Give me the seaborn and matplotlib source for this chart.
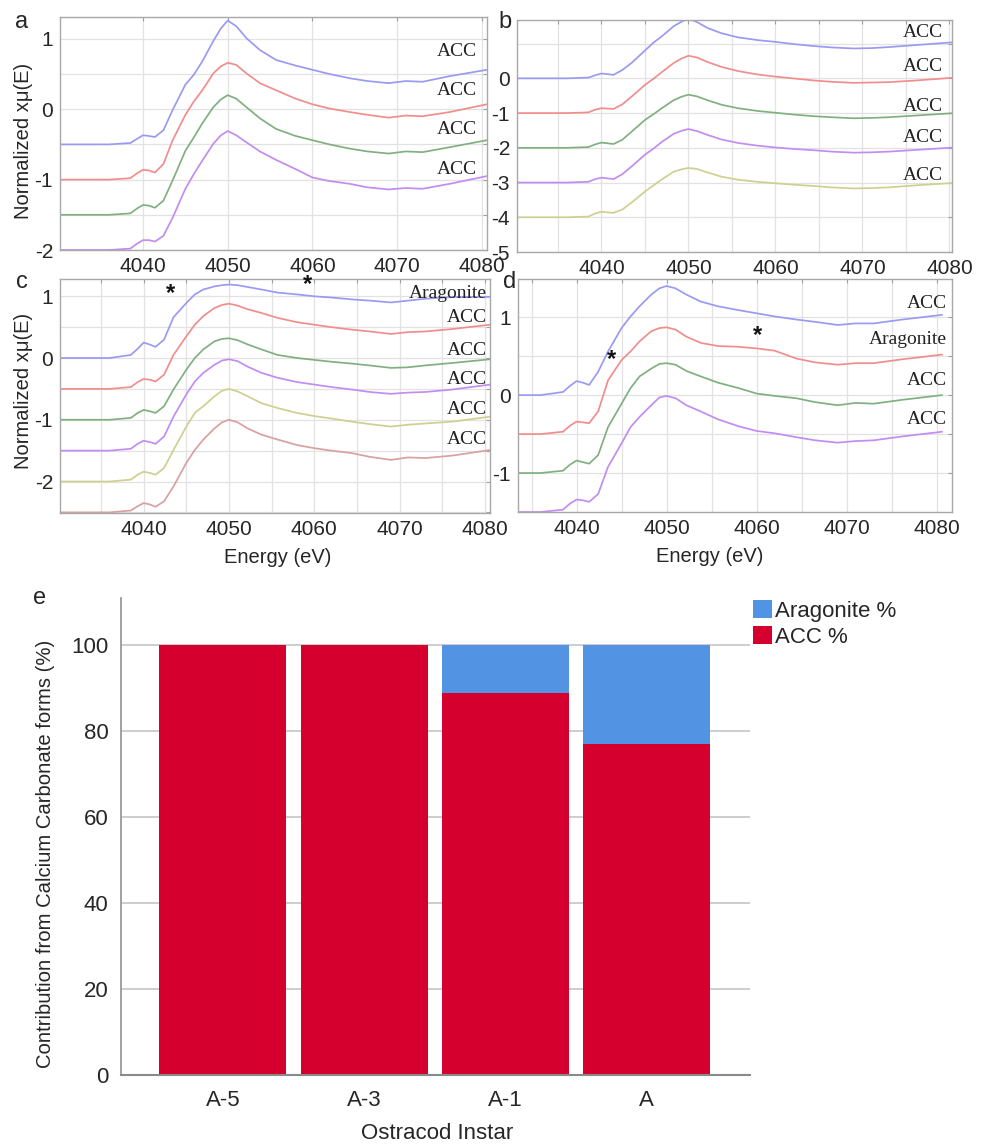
import matplotlib
matplotlib.use("Agg")
import matplotlib.pyplot as plt
from matplotlib.ticker import FixedLocator
import seaborn as sns
import pandas as pd

# ---- XANES spectra, shared energy grid in eV ----
energy = [4030, 4036, 4038.5, 4039.3, 4040, 4040.7, 4041.4, 4042.4, 4043.5, 4045,
          4046, 4047, 4048.3, 4049.2, 4050, 4051, 4052.2, 4053.8, 4055.7, 4058,
          4060, 4062, 4064.4, 4066.5, 4069, 4071, 4073, 4076.2, 4080.6]

a_blue = [-0.5, -0.5, -0.48, -0.42, -0.37, -0.38, -0.395, -0.3, -0.01, 0.35, 0.49, 0.68, 0.97, 1.15, 1.26,
          1.18, 1.01, 0.84, 0.70, 0.62, 0.56, 0.50, 0.44, 0.40, 0.37, 0.40, 0.39, 0.47, 0.56]
a_red = [-1, -1, -0.98, -0.91, -0.86, -0.87, -0.9, -0.78, -0.44, -0.08, 0.11, 0.27, 0.51, 0.61, 0.66,
         0.63, 0.51, 0.37, 0.27, 0.15, 0.07, 0.01, -0.04, -0.08, -0.12, -0.09, -0.10, -0.04, 0.07]
a_green = [-1.5, -1.5, -1.48, -1.41, -1.36, -1.37, -1.4, -1.3, -1.01, -0.59, -0.4, -0.2, 0.03, 0.14, 0.2,
           0.15, 0.03, -0.13, -0.28, -0.38, -0.44, -0.5, -0.56, -0.6, -0.63, -0.6, -0.61, -0.54, -0.44]
a_purple = [-2, -2, -1.98, -1.91, -1.86, -1.86, -1.88, -1.8, -1.54, -1.13, -0.92, -0.73, -0.49, -0.37, -0.31,
            -0.37, -0.47, -0.6, -0.72, -0.85, -0.97, -1.02, -1.06, -1.11, -1.14, -1.12, -1.13, -1.06, -0.95]

b_blue = [0, 0, 0.02, 0.09, 0.14, 0.12, 0.1, 0.24, 0.45, 0.8, 1.03, 1.22, 1.5, 1.63, 1.72,
          1.62, 1.45, 1.3, 1.18, 1.1, 1.05, 0.99, 0.93, 0.89, 0.86, 0.87, 0.9, 0.96, 1.04]
b_red = [-1, -1, -0.98, -0.9, -0.86, -0.87, -0.88, -0.75, -0.52, -0.19, -0.01, 0.19, 0.44, 0.57, 0.65,
         0.6, 0.47, 0.33, 0.21, 0.11, 0.05, 0.0, -0.06, -0.1, -0.13, -0.12, -0.11, -0.06, 0.02]
b_green = [-2, -2, -1.98, -1.9, -1.85, -1.87, -1.89, -1.77, -1.53, -1.2, -1.03, -0.85, -0.63, -0.53, -0.47,
           -0.52, -0.63, -0.76, -0.86, -0.94, -0.99, -1.04, -1.09, -1.12, -1.15, -1.14, -1.12, -1.07, -1.0]
b_purple = [-3, -3, -2.98, -2.9, -2.86, -2.88, -2.9, -2.76, -2.53, -2.2, -2.02, -1.82, -1.6, -1.51, -1.46,
            -1.52, -1.63, -1.76, -1.86, -1.94, -1.99, -2.03, -2.07, -2.11, -2.14, -2.13, -2.11, -2.06, -1.99]
b_olive = [-4, -4, -3.98, -3.89, -3.84, -3.86, -3.87, -3.78, -3.57, -3.26, -3.08, -2.9, -2.69, -2.62, -2.58,
           -2.61, -2.71, -2.83, -2.92, -2.98, -3.02, -3.06, -3.1, -3.14, -3.17, -3.16, -3.14, -3.08, -3.01]

c_blue = [0, 0, 0.05, 0.15, 0.25, 0.22, 0.18, 0.3, 0.66, 0.89, 1.03, 1.11, 1.16, 1.18, 1.19,
          1.18, 1.15, 1.11, 1.06, 1.03, 1.0, 0.98, 0.95, 0.93, 0.9, 0.93, 0.96, 0.99, 0.99]
c_red = [-0.5, -0.5, -0.47, -0.39, -0.34, -0.35, -0.38, -0.27, 0.05, 0.35, 0.54, 0.68, 0.81, 0.86, 0.88,
         0.85, 0.79, 0.73, 0.65, 0.58, 0.54, 0.5, 0.46, 0.43, 0.39, 0.42, 0.43, 0.47, 0.54]
c_green = [-1, -1, -0.97, -0.89, -0.84, -0.86, -0.89, -0.78, -0.51, -0.19, 0.0, 0.14, 0.27, 0.31, 0.32,
           0.29, 0.22, 0.14, 0.05, 0.0, -0.03, -0.06, -0.09, -0.12, -0.16, -0.15, -0.12, -0.08, -0.02]
c_purple = [-1.5, -1.5, -1.47, -1.39, -1.34, -1.36, -1.39, -1.27, -0.95, -0.59, -0.38, -0.24, -0.11, -0.04, -0.02,
            -0.05, -0.14, -0.24, -0.32, -0.39, -0.43, -0.47, -0.51, -0.55, -0.58, -0.56, -0.55, -0.51, -0.43]
c_olive = [-2, -2, -1.97, -1.89, -1.84, -1.86, -1.89, -1.78, -1.49, -1.11, -0.89, -0.78, -0.62, -0.53, -0.5,
           -0.54, -0.62, -0.73, -0.81, -0.89, -0.94, -0.98, -1.03, -1.07, -1.11, -1.08, -1.06, -1.03, -0.95]
c_brown = [-2.5, -2.5, -2.47, -2.4, -2.35, -2.37, -2.41, -2.32, -2.08, -1.7, -1.49, -1.32, -1.14, -1.04, -1.0,
           -1.04, -1.14, -1.24, -1.32, -1.41, -1.46, -1.5, -1.54, -1.6, -1.65, -1.61, -1.62, -1.58, -1.49]

d_blue = [0, 0, 0.04, 0.12, 0.18, 0.16, 0.13, 0.3, 0.56, 0.86, 1.01, 1.14, 1.29, 1.37, 1.4,
          1.37, 1.29, 1.2, 1.14, 1.09, 1.05, 1.01, 0.97, 0.94, 0.9, 0.92, 0.92, 0.97, 1.03]
d_red = [-0.5, -0.5, -0.47, -0.39, -0.34, -0.35, -0.36, -0.21, 0.19, 0.45, 0.56, 0.69, 0.82, 0.86, 0.87,
         0.84, 0.75, 0.67, 0.63, 0.62, 0.6, 0.57, 0.47, 0.42, 0.39, 0.41, 0.41, 0.46, 0.52]
d_green = [-1, -1, -0.97, -0.89, -0.84, -0.86, -0.88, -0.77, -0.41, -0.11, 0.09, 0.24, 0.34, 0.4, 0.41,
           0.39, 0.31, 0.24, 0.16, 0.09, 0.02, -0.01, -0.04, -0.09, -0.13, -0.1, -0.11, -0.06, 0.0]
d_purple = [-1.5, -1.5, -1.47, -1.39, -1.34, -1.35, -1.37, -1.27, -0.92, -0.62, -0.41, -0.28, -0.13, -0.03, -0.01,
            -0.04, -0.13, -0.21, -0.31, -0.4, -0.46, -0.49, -0.54, -0.58, -0.61, -0.59, -0.58, -0.53, -0.47]

a_names = ["ACC", "ACC", "ACC", "ACC"]
b_names = ["ACC", "ACC", "ACC", "ACC", "ACC"]
c_names = ["Aragonite", "ACC", "ACC", "ACC", "ACC", "ACC"]
d_names = ["ACC", "Aragonite", "ACC", "ACC"]

# asterisks marking aragonite features (energy, value)
c_stars_e = [4043.1, 4059.2]
c_stars_y = [1.04, 1.19]
d_stars_e = [4043.9, 4060.1]
d_stars_y = [0.46, 0.76]

# ---- bar chart ----
instars = ["A-5", "A-3", "A-1", "A"]
acc_pct = [100, 100, 89, 77]
aragonite_pct = [0, 0, 11, 23]

line_colors = ["#9a9af4", "#f28d8d", "#80b080", "#c28cf2", "#cdd08e", "#d9a0a0"]

sns.set_theme(style="white")
plt.rcParams["font.family"] = ["Liberation Sans", "DejaVu Sans"]
plt.rcParams["axes.unicode_minus"] = False

fig = plt.figure(figsize=(9.81, 11.46), dpi=100)
W, H = 981, 1146


def px_axes(left, top, right, bottom):
    return fig.add_axes([left / W, (H - bottom) / H, (right - left) / W, (bottom - top) / H])


def spectra(ax, curves, names, xlim, ylim, label_y, label_x):
    rows = []
    for i, vals in enumerate(curves):
        for e, v in zip(energy, vals):
            rows.append({"energy": e, "mu": v, "curve": i})
    df = pd.DataFrame(rows)
    sns.lineplot(data=df, x="energy", y="mu", hue="curve", palette=line_colors[:len(curves)],
                 sort=False, estimator=None, legend=False, lw=1.25, ax=ax)
    ax.set_xlim(*xlim)
    ax.set_ylim(*ylim)
    ax.set_xlabel("")
    ax.set_ylabel("")
    for s in ax.spines.values():
        s.set_color("#a8a8a8")
        s.set_linewidth(1.0)
    ax.tick_params(direction="in", length=3, width=0.8, color="#a0a0a0",
                   labelsize=15, pad=5, top=True, right=True, which="both")
    ax.grid(True, which="both", color="#e2e2e2", lw=0.9)
    for name, y in zip(names, label_y):
        ax.text(label_x, y, name, family=["Liberation Serif", "DejaVu Serif"], fontsize=14,
                ha="right", va="center", color="#222222")


# panel a
ax_a = px_axes(60, 17, 487, 250)
spectra(ax_a, [a_blue, a_red, a_green, a_purple], a_names, (4030.2, 4080.6), (-2.0, 1.31),
        [0.82, 0.26, -0.29, -0.85], 4079.4)
ax_a.xaxis.set_major_locator(FixedLocator([4040, 4050, 4060, 4070, 4080]))
ax_a.yaxis.set_major_locator(FixedLocator([-2, -1, 0, 1]))
ax_a.yaxis.set_minor_locator(FixedLocator([-1.5, -0.5, 0.5]))
ax_a.set_ylabel("Normalized x\u03bc(E)", fontsize=14.5)
ax_a.yaxis.set_label_coords(-0.063, 0.47)

# panel b
ax_b = px_axes(517, 20, 952, 252)
spectra(ax_b, [b_blue, b_red, b_green, b_purple, b_olive], b_names, (4030.3, 4080.3), (-5.0, 1.68),
        [1.31, 0.34, -0.8, -1.7, -2.79], 4079.3)
ax_b.xaxis.set_major_locator(FixedLocator([4040, 4050, 4060, 4070, 4080]))
ax_b.xaxis.set_minor_locator(FixedLocator([4035, 4045, 4055, 4065, 4075]))
ax_b.yaxis.set_major_locator(FixedLocator([-5, -4, -3, -2, -1, 0]))
ax_b.yaxis.set_minor_locator(FixedLocator([1]))

# panel c
ax_c = px_axes(60, 279, 490, 513)
spectra(ax_c, [c_blue, c_red, c_green, c_purple, c_olive, c_brown], c_names, (4030.2, 4080.6),
        (-2.51, 1.28), [1.04, 0.65, 0.12, -0.34, -0.83, -1.32], 4080.2)
ax_c.xaxis.set_major_locator(FixedLocator([4040, 4050, 4060, 4070, 4080]))
ax_c.xaxis.set_minor_locator(FixedLocator([4035, 4045, 4055, 4065, 4075]))
ax_c.yaxis.set_major_locator(FixedLocator([-2, -1, 0, 1]))
ax_c.yaxis.set_minor_locator(FixedLocator([-2.5, -1.5, -0.5, 0.5]))
ax_c.set_ylabel("Normalized x\u03bc(E)", fontsize=14.5)
ax_c.yaxis.set_label_coords(-0.063, 0.52)
ax_c.set_xlabel("Energy (eV)", fontsize=14.5)
ax_c.xaxis.set_label_coords(0.507, -0.15)
for e, y in zip(c_stars_e, c_stars_y):
    ax_c.text(e, y, "*", fontsize=17, ha="center", va="center", fontweight="bold", color="#111111")

# panel d
ax_d = px_axes(518, 279, 952, 512)
spectra(ax_d, [d_blue, d_red, d_green, d_purple], d_names, (4033.5, 4081.7), (-1.5, 1.49),
        [1.17, 0.71, 0.19, -0.31], 4081.1)
ax_d.xaxis.set_major_locator(FixedLocator([4040, 4050, 4060, 4070, 4080]))
ax_d.xaxis.set_minor_locator(FixedLocator([4035, 4045, 4055, 4065, 4075]))
ax_d.yaxis.set_major_locator(FixedLocator([-1, 0, 1]))
ax_d.yaxis.set_minor_locator(FixedLocator([-0.5, 0.5]))
ax_d.set_xlabel("Energy (eV)", fontsize=14.5)
ax_d.xaxis.set_label_coords(0.442, -0.15)
for e, y in zip(d_stars_e, d_stars_y):
    ax_d.text(e, y, "*", fontsize=17, ha="center", va="center", fontweight="bold", color="#111111")

# panel e: stacked bars
ax_e = px_axes(121, 598, 750, 1075)
total_pct = [a + b for a, b in zip(acc_pct, aragonite_pct)]
sns.barplot(x=instars, y=total_pct, order=instars, color="#5294e3", saturation=1, width=0.9,
            linewidth=0, label="Aragonite %", ax=ax_e)
sns.barplot(x=instars, y=acc_pct, order=instars, color="#d6002e", saturation=1, width=0.9,
            linewidth=0, label="ACC %", ax=ax_e)
ax_e.set_xlim(-0.72, 3.73)
ax_e.set_ylim(0, 111)
ax_e.set_yticks([0, 20, 40, 60, 80, 100])
ax_e.set_axisbelow(True)
ax_e.grid(True, axis="y", color="#c9c9c9", lw=1.3)
ax_e.grid(False, axis="x")
for side in ["top", "right"]:
    ax_e.spines[side].set_visible(False)
ax_e.spines["left"].set_color("#9a9a9a")
ax_e.spines["bottom"].set_color("#8a8a8a")
ax_e.spines["left"].set_linewidth(1.3)
ax_e.spines["bottom"].set_linewidth(1.5)
ax_e.tick_params(axis="y", length=0, labelsize=16, pad=9)
ax_e.tick_params(axis="x", length=0, labelsize=16, pad=11)
ax_e.set_ylabel("Contribution from Calcium Carbonate forms (%)", fontsize=14.6)
ax_e.yaxis.set_label_coords(-0.105, 0.463)
ax_e.set_xlabel("Ostracod Instar", fontsize=16)
ax_e.xaxis.set_label_coords(0.502, -0.1)
handles, labels = ax_e.get_legend_handles_labels()
ax_e.legend(handles, labels, loc="upper left", bbox_to_anchor=(1.005, 0.995), frameon=False,
            fontsize=16, borderaxespad=0, borderpad=0, handlelength=0.85, handleheight=0.85,
            handletextpad=0.15, labelspacing=0.2)

# panel letters
for letter, x, y in [("a", 22, 22), ("b", 505, 22), ("c", 22, 282), ("d", 510, 282), ("e", 40, 598)]:
    fig.text(x / W, 1 - y / H, letter, fontsize=17, ha="center", va="center")

fig.savefig("out.png", dpi=100)
